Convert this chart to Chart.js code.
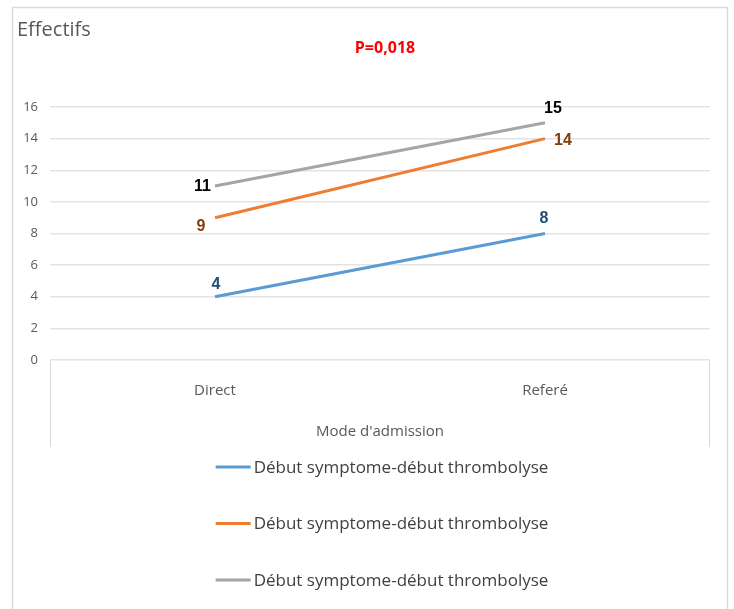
<!DOCTYPE html>
<html>
<head>
<meta charset="utf-8">
<script src="https://cdn.jsdelivr.net/npm/chart.js@4.4.1/dist/chart.umd.min.js"></script>
<style>
    html, body { margin: 0; padding: 0; background: #fff; }
    #wrap { width: 734px; height: 609px; }
</style>
</head>
<body>
<div id="wrap"><canvas id="chart" width="734" height="609"></canvas></div>
<script>
const categories = ['Direct', 'Referé'];
const seriesLabels = [
    'Début symptome-début thrombolyse',
    'Début symptome-début thrombolyse',
    'Début symptome-début thrombolyse'
];
const serieBleue = [4, 8];
const serieOrange = [9, 14];
const serieGrise = [11, 15];
const yMin = 0, yMax = 16, yStep = 2;

const colors = ['#5B9BD5', '#ED7D31', '#A5A5A5'];
const labelColors = ['#1F4E79', '#843C0C', '#000000'];
// label offsets from the point: [dx, dy, align] per category
const labelPos = [
    [[1, -12, 'center'], [-1, -15, 'center']],
    [[-14, 9, 'center'], [18, 2, 'center']],
    [[-4, 1, 'right'], [8, -14, 'center']]
];
const FONT = "'Open Sans', sans-serif";

const extras = {
    id: 'extras',
    beforeDraw(chart) {
        const ctx = chart.ctx;
        ctx.save();
        ctx.strokeStyle = '#D9D9D9';
        ctx.lineWidth = 1.5;
        ctx.beginPath();
        ctx.moveTo(12.5, 620);
        ctx.lineTo(12.5, 7.5);
        ctx.lineTo(727.5, 7.5);
        ctx.lineTo(727.5, 620);
        ctx.stroke();
        ctx.restore();
    },
    afterDraw(chart) {
        const ctx = chart.ctx;
        const area = chart.chartArea;
        const xs = chart.scales.x;
        ctx.save();

        // category box under the plot
        ctx.strokeStyle = '#D9D9D9';
        ctx.lineWidth = 1;
        ctx.beginPath();
        ctx.moveTo(area.left + 0.5, area.bottom);
        ctx.lineTo(area.left + 0.5, xs.bottom - 3);
        ctx.moveTo(area.right - 0.5, area.bottom);
        ctx.lineTo(area.right - 0.5, xs.bottom - 3);
        ctx.stroke();

        // titles
        ctx.textBaseline = 'middle';
        ctx.textAlign = 'left';
        ctx.fillStyle = '#595959';
        ctx.font = "20px " + FONT;
        ctx.fillText('Effectifs', 17, 30);
        ctx.textAlign = 'center';
        ctx.fillStyle = '#FF0000';
        ctx.font = "bold 16px " + FONT;
        ctx.fillText('P=0,018', 385, 48);

        // data labels
        ctx.font = "bold 16px 'Liberation Sans', Arial, sans-serif";
        chart.data.datasets.forEach((ds, i) => {
            const meta = chart.getDatasetMeta(i);
            meta.data.forEach((pt, j) => {
                const [dx, dy, align] = labelPos[i][j];
                ctx.fillStyle = labelColors[i];
                ctx.textAlign = align;
                ctx.fillText(String(ds.data[j]), pt.x + dx, pt.y + dy);
            });
        });

        // vertical legend
        ctx.font = "17px " + FONT;
        ctx.textAlign = 'left';
        const cx = (area.left + area.right) / 2 + 2;
        chart.data.datasets.forEach((ds, i) => {
            const y = xs.bottom + 17 + i * 56.5;
            const tw = ctx.measureText(ds.label).width;
            const x0 = cx - (35 + 3 + tw) / 2;
            ctx.strokeStyle = ds.borderColor;
            ctx.lineWidth = 3;
            ctx.beginPath();
            ctx.moveTo(x0, y);
            ctx.lineTo(x0 + 35, y);
            ctx.stroke();
            ctx.fillStyle = '#404040';
            ctx.fillText(ds.label, x0 + 38, y + 1);
        });
        ctx.restore();
    }
};

new Chart(document.getElementById('chart'), {
    type: 'line',
    data: {
        labels: categories,
        datasets: [serieBleue, serieOrange, serieGrise].map((d, i) => ({
            label: seriesLabels[i],
            data: d,
            borderColor: colors[i],
            backgroundColor: colors[i],
            borderWidth: 3,
            pointRadius: 0,
            tension: 0
        }))
    },
    options: {
        responsive: false,
        animation: false,
        layout: { padding: { top: 107, left: 12, right: 24, bottom: 159 } },
        plugins: { legend: { display: false }, tooltip: { enabled: false } },
        scales: {
            x: {
                offset: true,
                grid: { display: false },
                border: { display: false },
                ticks: { color: '#595959', font: { family: FONT, size: 15 }, padding: 14 },
                title: { display: true, text: "Mode d'admission", color: '#595959',
                         font: { family: FONT, size: 15 }, padding: { top: 0, bottom: 9 } },
                afterFit(scale) { scale.height = 90; }
            },
            y: {
                min: yMin, max: yMax,
                grid: { color: '#E3E3E3', lineWidth: 1.5, drawTicks: false },
                border: { display: false },
                ticks: { stepSize: yStep, color: '#595959', font: { family: FONT, size: 13 }, padding: 12 },
                afterFit(scale) { scale.width = 38; }
            }
        }
    },
    plugins: [extras]
});
</script>
</body>
</html>
